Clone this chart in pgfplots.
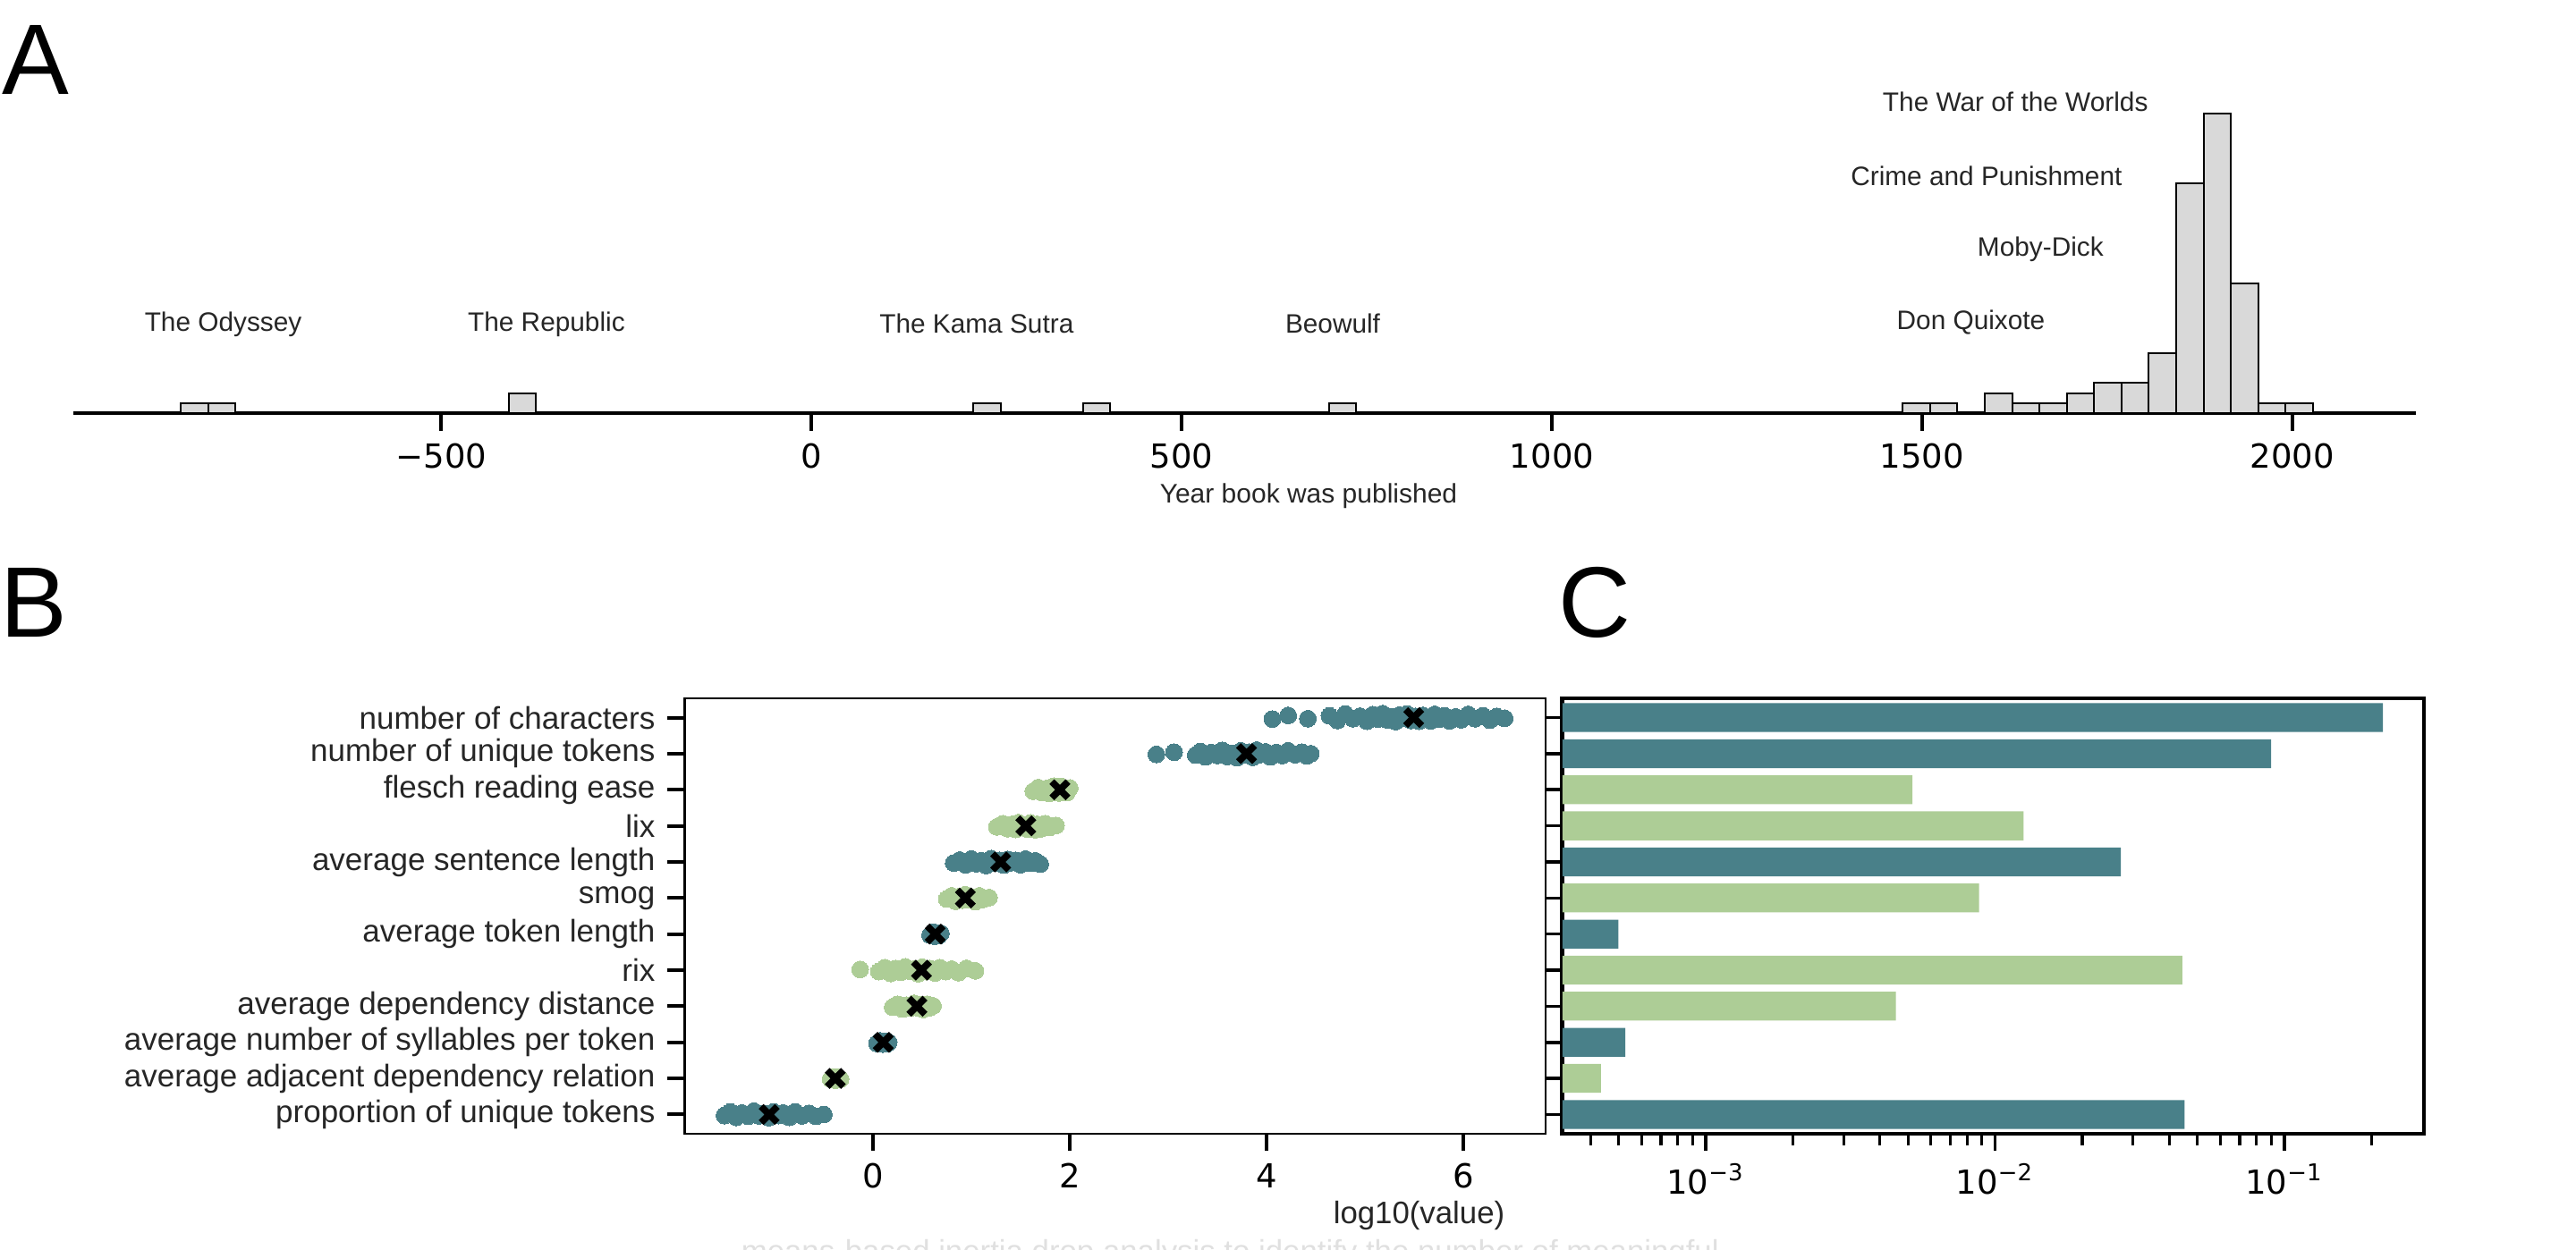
\documentclass[border=0pt]{standalone}
\usepackage{pgfplots}
\pgfplotsset{compat=1.18}
\usepackage{fontspec}
\setmainfont{Liberation Sans}
\newfontfamily\djv{DejaVu Sans}
\definecolor{teal1}{RGB}{73,128,137}
\definecolor{green1}{RGB}{173,205,150}
\definecolor{txt}{RGB}{38,38,38}
\definecolor{histgray}{RGB}{217,217,217}
\begin{document}
\begin{tikzpicture}
\path[use as bounding box] (0,0) rectangle (720pt,349.5pt);
% panel letters
\node[anchor=base west, inner sep=0, font=\fontsize{28}{30}\selectfont] at (0.5pt,323pt) {A};
\node[anchor=base west, inner sep=0, font=\fontsize{28}{30}\selectfont] at (0pt,171.25pt) {B};
\node[anchor=base west, inner sep=0, font=\fontsize{28}{30}\selectfont] at (435.3pt,171.25pt) {C};
% faint artifact text at the bottom
\node[anchor=base west, inner sep=0, font=\fontsize{8.7}{10}\selectfont, text=black!12] at (207pt,-3.4pt) {means-based inertia drop analysis to identify the number of meaningful};

% ---------------- Panel A ----------------
\begin{axis}[
  at={(20.5pt,234pt)}, anchor=south west,
  scale only axis, width=654.75pt, height=90.5pt,
  xmin=-997, xmax=2167, ymin=0, ymax=32.4,
  axis x line=bottom, axis y line=none,
  axis line style={-, line width=1.2pt, black},
  xtick={-500,0,500,1000,1500,2000},
  xticklabels={−500,0,500,1000,1500,2000},
  tick align=outside, major tick length=5pt,
  every tick/.style={line width=1pt, black},
  xticklabel style={font=\djv\fontsize{9.25}{10}\selectfont, text=black},
  xlabel={Year book was published},
  xlabel style={at={(axis description cs:0.5273,-0.279)}, anchor=base, font=\fontsize{7.5}{9}\selectfont, text=txt},
  clip=false,
]
\addplot[ybar interval, fill=histgray, draw=black, line width=0.5pt] coordinates {
(-852.0,1) (-815.1,1) (-778.2,0) (-409.0,2) (-372.0,0) (218.7,1) (255.6,0)
(366.4,1) (403.3,0) (698.6,1) (735.6,0)
(1474.0,1) (1510.9,1) (1547.8,0) (1584.7,2) (1621.6,1) (1658.6,1) (1695.5,2)
(1732.4,3) (1769.3,3) (1806.2,6) (1843.2,23) (1880.1,30) (1917.0,13)
(1953.9,1) (1990.8,1) (2027.8,0)
};
\begin{scope}[every node/.style={anchor=base, inner sep=0, font=\fontsize{7.45}{9}\selectfont, text=txt}]
\node at (axis cs:-794.6,8.2) {The Odyssey};
\node at (axis cs:-358,8.2) {The Republic};
\node at (axis cs:223,8.0) {The Kama Sutra};
\node at (axis cs:704,8.0) {Beowulf};
\node at (axis cs:1566,8.4) {Don Quixote};
\node at (axis cs:1660,15.7) {Moby-Dick};
\node at (axis cs:1587,22.8) {Crime and Punishment};
\node at (axis cs:1626,30.2) {The War of the Worlds};
\end{scope}
\end{axis}

% ---------------- Panel B ----------------
\begin{axis}[
  at={(191.375pt,32.5pt)}, anchor=south west,
  scale only axis, width=240.75pt, height=121.75pt,
  xmin=-1.914, xmax=6.841, ymin=-0.535, ymax=11.535, y dir=reverse,
  axis line style={line width=0.5pt, black},
  xtick={0,2,4,6}, xticklabels={0,2,4,6},
  ytick={0,1,2,3,4,5,6,7,8,9,10,11},
  yticklabels={number of characters, number of unique tokens, flesch reading ease, lix, average sentence length, smog, average token length, rix, average dependency distance, average number of syllables per token, average adjacent dependency relation, proportion of unique tokens},
  xtick pos=bottom, ytick pos=left,
  tick align=outside, major tick length=4.75pt,
  every tick/.style={line width=1pt, black},
  xticklabel style={font=\djv\fontsize{9.25}{10}\selectfont, text=black},
  yticklabel style={font=\fontsize{8.75}{10}\selectfont, text=txt},
  xlabel={log10(value)},
  xlabel style={at={(axis description cs:0.8526,-0.2074)}, anchor=base, font=\fontsize{8.7}{10}\selectfont, text=txt},
]
% teal strips
\addplot[only marks, mark=*, mark size=2.35pt, mark options={fill=teal1, draw=teal1, line width=0pt}] coordinates {
(4.06,0.04) (4.22,-0.06) (4.42,0.03) (4.64,-0.05) (4.72,0.08) (4.80,-0.10) (4.88,0.03) (4.95,-0.04) (5.02,0.10) (5.08,-0.08) (5.13,0.04) (5.18,-0.11) (5.22,0.06) (5.27,-0.02) (5.31,0.11) (5.35,-0.07) (5.39,0.02) (5.43,-0.10) (5.47,0.08) (5.51,-0.03) (5.55,0.10) (5.59,-0.06) (5.63,0.01) (5.67,0.09) (5.71,-0.09) (5.76,0.04) (5.81,-0.05) (5.86,0.09) (5.92,-0.02) (5.98,0.06) (6.05,-0.09) (6.12,0.03) (6.20,-0.05) (6.27,0.07) (6.34,-0.03) (6.42,0.02)
(2.88,1.02) (3.06,0.96) (3.28,1.04) (3.33,0.94) (3.38,1.09) (3.44,0.97) (3.50,1.05) (3.55,0.91) (3.60,1.08) (3.65,0.99) (3.70,1.11) (3.74,0.92) (3.78,1.04) (3.82,0.96) (3.86,1.10) (3.90,0.90) (3.94,1.02) (3.99,0.95) (4.04,1.09) (4.10,0.97) (4.16,1.05) (4.22,0.92) (4.29,1.03) (4.36,0.96) (4.41,1.06) (4.45,1.00)
(0.82,4.03) (0.88,3.95) (0.94,4.08) (1.00,3.92) (1.05,4.05) (1.10,3.97) (1.15,4.10) (1.20,3.91) (1.25,4.04) (1.29,3.96) (1.33,4.09) (1.37,3.93) (1.41,4.02) (1.45,3.96) (1.50,4.08) (1.55,3.92) (1.60,4.04) (1.65,3.97) (1.70,4.06)
(0.58,6.03) (0.61,5.95) (0.63,6.06) (0.65,5.97) (0.67,6.04) (0.69,5.98) (0.62,6.00)
(0.04,9.03) (0.07,8.96) (0.10,9.05) (0.12,8.97) (0.14,9.04) (0.16,9.00)
(-1.51,11.03) (-1.45,10.93) (-1.39,11.08) (-1.33,10.96) (-1.27,11.05) (-1.21,10.91) (-1.16,11.04) (-1.11,10.97) (-1.06,11.09) (-1.01,10.93) (-0.96,11.03) (-0.91,10.96) (-0.85,11.08) (-0.79,10.93) (-0.72,11.04) (-0.65,10.97) (-0.58,11.05) (-0.50,11.00)
};
% green strips
\addplot[only marks, mark=*, mark size=2.35pt, mark options={fill=green1, draw=green1, line width=0pt}] coordinates {
(1.63,2.04) (1.68,1.94) (1.72,2.08) (1.76,1.97) (1.79,2.10) (1.82,1.92) (1.85,2.03) (1.87,1.96) (1.89,2.09) (1.91,1.91) (1.93,2.05) (1.95,1.97) (1.97,2.08) (2.00,1.95) (1.84,1.90) (1.80,2.01)
(1.26,3.03) (1.32,2.94) (1.37,3.08) (1.41,2.96) (1.45,3.10) (1.48,2.91) (1.51,3.04) (1.54,2.97) (1.57,3.09) (1.60,2.92) (1.63,3.03) (1.67,2.96) (1.71,3.08) (1.75,2.94) (1.80,3.04) (1.86,2.99) (1.43,3.00) (1.65,3.11)
(0.75,5.03) (0.80,4.94) (0.84,5.09) (0.88,4.96) (0.91,5.06) (0.94,4.91) (0.97,5.04) (1.00,4.97) (1.04,5.10) (1.08,4.94) (1.12,5.04) (1.18,4.99)
(-0.13,6.98) (0.06,7.04) (0.12,6.93) (0.18,7.09) (0.23,6.96) (0.28,7.06) (0.33,6.91) (0.38,7.03) (0.42,6.97) (0.46,7.10) (0.50,6.92) (0.54,7.04) (0.58,6.96) (0.63,7.08) (0.68,6.93) (0.74,7.04) (0.80,6.97) (0.87,7.07) (0.95,6.95) (1.04,7.02)
(0.20,8.03) (0.25,7.95) (0.30,8.08) (0.34,7.97) (0.38,8.05) (0.42,7.92) (0.45,8.04) (0.48,7.96) (0.51,8.09) (0.55,7.95) (0.58,8.04) (0.61,7.99)
(-0.43,10.02) (-0.40,9.96) (-0.38,10.05) (-0.36,9.97) (-0.33,10.02)
};
% means
\addplot[only marks, mark=x, mark size=3.2pt, black, line width=1.9pt] coordinates {
(5.496,0) (3.797,1) (1.90,2) (1.554,3) (1.298,4) (0.939,5) (0.632,6) (0.493,7) (0.446,8) (0.104,9) (-0.383,10) (-1.055,11)
};
\end{axis}

% ---------------- Panel C ----------------
\begin{axis}[
  at={(436.7pt,32.5pt)}, anchor=south west,
  scale only axis, width=240.8pt, height=121.75pt,
  xmode=log, log basis x=10, xmin=3.197e-4, xmax=0.3035, log origin x=infty,
  ymin=-0.535, ymax=11.535, y dir=reverse,
  axis line style={line width=1.2pt, black},
  ytick={0,1,2,3,4,5,6,7,8,9,10,11}, yticklabels={},
  xtick={0.001,0.01,0.1},
  xticklabels={10\textsuperscript{−3},10\textsuperscript{−2},10\textsuperscript{−1}},
  minor xtick={4e-4,5e-4,6e-4,7e-4,8e-4,9e-4,2e-3,3e-3,4e-3,5e-3,6e-3,7e-3,8e-3,9e-3,2e-2,3e-2,4e-2,5e-2,6e-2,7e-2,8e-2,9e-2,0.2},
  xtick pos=bottom, ytick pos=left,
  tick align=outside, major tick length=4.8pt, minor tick length=3.3pt,
  every tick/.style={line width=0.9pt, black},
  every minor tick/.style={line width=0.8pt, black},
  xticklabel style={font=\djv\fontsize{9.25}{10}\selectfont, text=black},
]
\addplot[xbar, bar width=0.8, bar shift=0pt, fill=teal1, draw=none] coordinates {
(0.219,0) (0.090,1) (0.0272,4) (0.000499,6) (0.000527,9) (0.0452,11)
};
\addplot[xbar, bar width=0.8, bar shift=0pt, fill=green1, draw=none] coordinates {
(0.00518,2) (0.01254,3) (0.00881,5) (0.0444,7) (0.00454,8) (0.000434,10)
};
\end{axis}
\end{tikzpicture}
\end{document}
